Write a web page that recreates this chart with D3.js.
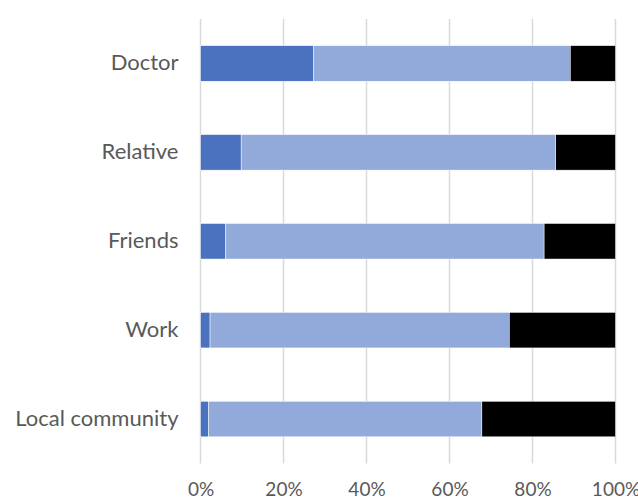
<!DOCTYPE html>
<html>
<head>
<meta charset="utf-8">
<script src="https://cdn.jsdelivr.net/npm/d3@7"></script>
<style>
  html, body { margin: 0; padding: 0; background: #fff; }
  svg { display: block; }
</style>
</head>
<body>
<svg id="chart" width="638" height="500"></svg>
<script>
// Source of support, share of responses per group (percent)
const categories = ["Doctor", "Relative", "Friends", "Work", "Local community"];
const seriesNames = ["High", "Some", "None"];
const high = [27.3, 9.8, 6.1, 2.3, 1.9];
const some = [61.8, 75.8, 76.7, 72.1, 65.9];
const none = [10.9, 14.4, 17.2, 25.6, 32.2];
const tickValues = [0, 20, 40, 60, 80, 100];
const tickLabels = ["0%", "20%", "40%", "60%", "80%", "100%"];

const colors = ["#4A72BF", "#91AADA", "#000000"];

const svg = d3.select("#chart");
const margin = { top: 19, right: 22.5, bottom: 36.5, left: 200.5 };
const width = 638 - margin.left - margin.right;
const height = 500 - margin.top - margin.bottom;

const g = svg.append("g").attr("transform", `translate(${margin.left},${margin.top})`);

const x = d3.scaleLinear().domain([0, 100]).range([0, width]);
const y = d3.scaleBand().domain(categories).range([0, height]).paddingInner(0.6).paddingOuter(0.3);

// Vertical gridlines
g.append("g")
  .selectAll("line")
  .data(tickValues)
  .join("line")
  .attr("x1", d => x(d)).attr("x2", d => x(d))
  .attr("y1", 0).attr("y2", height)
  .attr("stroke", "#d9d9d9")
  .attr("stroke-width", 1.5);

// Stack the three series
const rows = categories.map((c, i) => ({ cat: c, High: high[i], Some: some[i], None: none[i] }));
const stacked = d3.stack().keys(seriesNames)(rows);

g.append("g")
  .selectAll("g")
  .data(stacked)
  .join("g")
  .attr("fill", (d, i) => colors[i])
  .selectAll("rect")
  .data(d => d)
  .join("rect")
  .attr("x", d => x(d[0]))
  .attr("width", d => x(d[1]) - x(d[0]))
  .attr("y", d => y(d.data.cat))
  .attr("height", y.bandwidth())
  .attr("stroke", "#ffffff")
  .attr("stroke-width", 0.5);

// Category labels
const yAxis = d3.axisLeft(y).tickSize(0).tickPadding(22);
const yg = g.append("g").call(yAxis);
yg.select(".domain").remove();
yg.selectAll("text")
  .attr("font-family", "Lato, 'Open Sans', sans-serif")
  .attr("font-size", "22px")
  .attr("fill", "#595959");

// Percent axis along the bottom; the last label runs past the right edge
const xAxis = d3.axisBottom(x).tickValues(tickValues)
  .tickFormat((d, i) => tickLabels[i]).tickSize(0).tickPadding(19);
const xg = g.append("g").attr("transform", `translate(0,${height})`).call(xAxis);
xg.select(".domain").remove();
xg.selectAll("text")
  .attr("font-family", "Lato, 'Open Sans', sans-serif")
  .attr("font-size", "19px")
  .attr("fill", "#595959");
</script>
</body>
</html>
